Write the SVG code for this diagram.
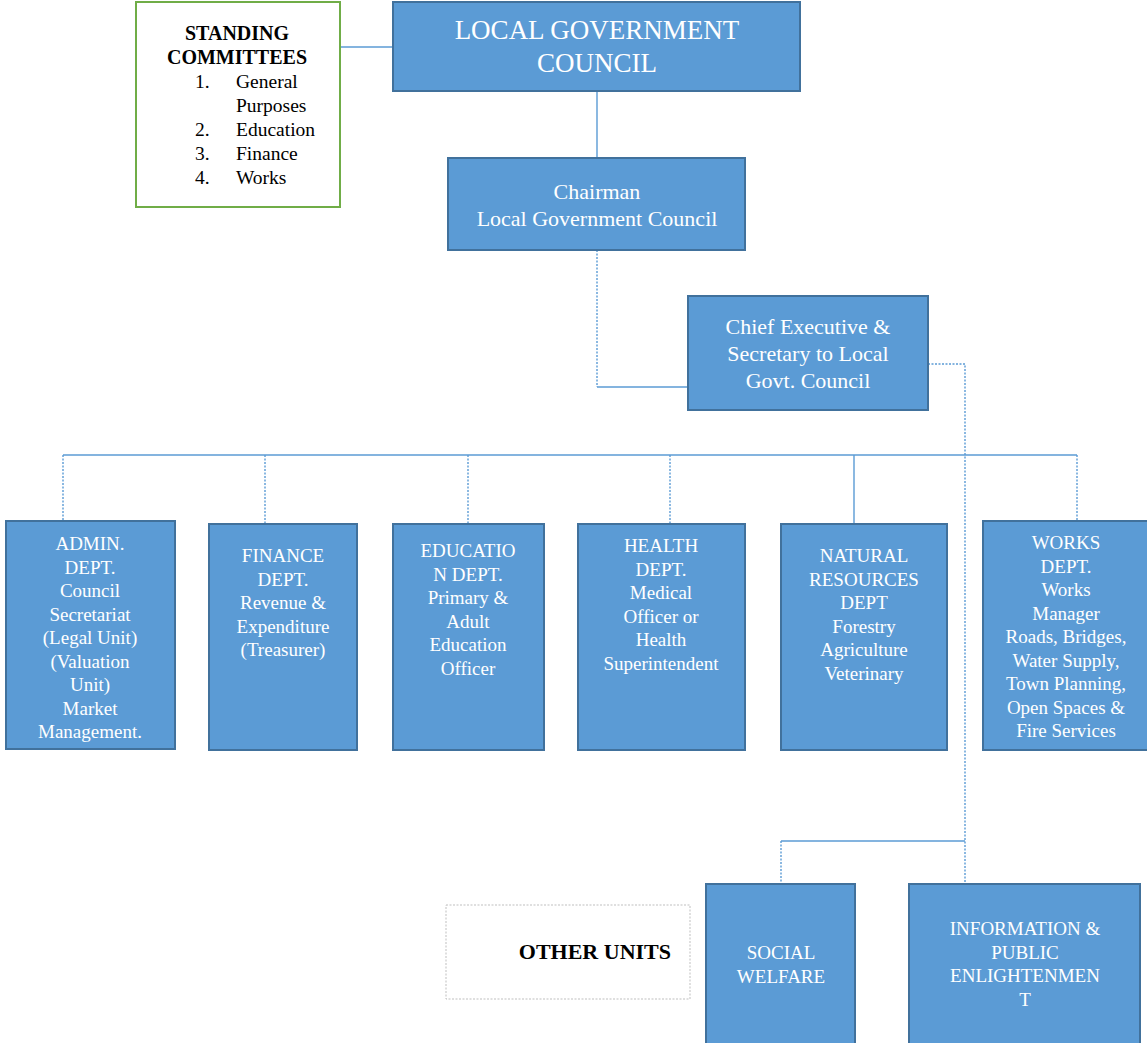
<svg xmlns="http://www.w3.org/2000/svg" width="1147" height="1043" viewBox="0 0 1147 1043">
<style>
.box{fill:#5B9BD5;stroke:#41719C;stroke-width:2}
.wt{fill:#FFFFFF;font-family:"Liberation Serif","Times New Roman",serif;text-anchor:middle}
.d{font-size:19px}
.bt{fill:#000000;font-family:"Liberation Serif","Times New Roman",serif}
.ln{fill:none;stroke:#5B9BD5;stroke-width:1.4}
.dl{fill:none;stroke:#5B9BD5;stroke-width:1.4;stroke-dasharray:2 1.5}
</style>
<rect width="1147" height="1043" fill="#FFFFFF"/>
<g id="connectors">
<path class="ln" d="M340 47 H393"/>
<path class="ln" d="M597 91 V158"/>
<path class="dl" d="M597 250 V387"/>
<path class="ln" d="M597 387 H688"/>
<path class="dl" d="M928 364 H965 V884"/>
<path class="ln" d="M63 455 H1077"/>
<path class="dl" d="M63 455 V521"/>
<path class="dl" d="M265 455 V524"/>
<path class="dl" d="M468 455 V524"/>
<path class="dl" d="M670 455 V524"/>
<path class="ln" d="M854 455 V524"/>
<path class="dl" d="M1077 455 V521"/>
<path class="ln" d="M965 841 H781"/>
<path class="dl" d="M781 841 V884"/>
</g>
<g id="standing-committees">
<rect x="136" y="2" width="204" height="205" fill="#FFFFFF" stroke="#70AD47" stroke-width="2"/>
<text class="bt" x="237" y="40" font-size="20" font-weight="bold" text-anchor="middle">STANDING</text>
<text class="bt" x="237" y="64" font-size="20" font-weight="bold" text-anchor="middle">COMMITTEES</text>
<g font-size="19.5">
<text class="bt" x="195" y="88">1.</text><text class="bt" x="236" y="88">General</text>
<text class="bt" x="236" y="112">Purposes</text>
<text class="bt" x="195" y="136">2.</text><text class="bt" x="236" y="136">Education</text>
<text class="bt" x="195" y="160">3.</text><text class="bt" x="236" y="160">Finance</text>
<text class="bt" x="195" y="184">4.</text><text class="bt" x="236" y="184">Works</text>
</g>
</g>
<g id="local-government-council">
<rect class="box" x="393" y="2" width="407" height="89"/>
<text class="wt" x="597" y="39" font-size="27">LOCAL GOVERNMENT</text>
<text class="wt" x="597" y="72" font-size="27">COUNCIL</text>
</g>
<g id="chairman">
<rect class="box" x="448" y="158" width="297" height="92"/>
<text class="wt" x="597" y="199" font-size="22">Chairman</text>
<text class="wt" x="597" y="226" font-size="22">Local Government Council</text>
</g>
<g id="chief-executive">
<rect class="box" x="688" y="296" width="240" height="114"/>
<text class="wt" x="808" y="334" font-size="22">Chief Executive &amp;</text>
<text class="wt" x="808" y="361" font-size="22">Secretary to Local</text>
<text class="wt" x="808" y="388" font-size="22">Govt. Council</text>
</g>
<g id="admin-dept">
<rect class="box" x="6" y="521" width="169" height="228"/>
<text class="wt d" x="90" y="550">ADMIN.</text>
<text class="wt d" x="90" y="573.5">DEPT.</text>
<text class="wt d" x="90" y="597">Council</text>
<text class="wt d" x="90" y="620.5">Secretariat</text>
<text class="wt d" x="90" y="644">(Legal Unit)</text>
<text class="wt d" x="90" y="667.5">(Valuation</text>
<text class="wt d" x="90" y="691">Unit)</text>
<text class="wt d" x="90" y="714.5">Market</text>
<text class="wt d" x="90" y="738">Management.</text>
</g>
<g id="finance-dept">
<rect class="box" x="209" y="524" width="148" height="226"/>
<text class="wt d" x="283" y="562">FINANCE</text>
<text class="wt d" x="283" y="585.5">DEPT.</text>
<text class="wt d" x="283" y="609">Revenue &amp;</text>
<text class="wt d" x="283" y="632.5">Expenditure</text>
<text class="wt d" x="283" y="656">(Treasurer)</text>
</g>
<g id="education-dept">
<rect class="box" x="393" y="524" width="151" height="226"/>
<text class="wt d" x="468" y="557">EDUCATIO</text>
<text class="wt d" x="468" y="580.5">N DEPT.</text>
<text class="wt d" x="468" y="604">Primary &amp;</text>
<text class="wt d" x="468" y="627.5">Adult</text>
<text class="wt d" x="468" y="651">Education</text>
<text class="wt d" x="468" y="674.5">Officer</text>
</g>
<g id="health-dept">
<rect class="box" x="578" y="524" width="167" height="226"/>
<text class="wt d" x="661" y="552">HEALTH</text>
<text class="wt d" x="661" y="575.5">DEPT.</text>
<text class="wt d" x="661" y="599">Medical</text>
<text class="wt d" x="661" y="622.5">Officer or</text>
<text class="wt d" x="661" y="646">Health</text>
<text class="wt d" x="661" y="669.5">Superintendent</text>
</g>
<g id="natural-resources-dept">
<rect class="box" x="781" y="524" width="166" height="226"/>
<text class="wt d" x="864" y="562">NATURAL</text>
<text class="wt d" x="864" y="585.5">RESOURCES</text>
<text class="wt d" x="864" y="609">DEPT</text>
<text class="wt d" x="864" y="632.5">Forestry</text>
<text class="wt d" x="864" y="656">Agriculture</text>
<text class="wt d" x="864" y="679.5">Veterinary</text>
</g>
<g id="works-dept">
<rect class="box" x="983" y="521" width="165" height="229"/>
<text class="wt d" x="1066" y="549">WORKS</text>
<text class="wt d" x="1066" y="572.5">DEPT.</text>
<text class="wt d" x="1066" y="596">Works</text>
<text class="wt d" x="1066" y="619.5">Manager</text>
<text class="wt d" x="1066" y="643">Roads, Bridges,</text>
<text class="wt d" x="1066" y="666.5">Water Supply,</text>
<text class="wt d" x="1066" y="690">Town Planning,</text>
<text class="wt d" x="1066" y="713.5">Open Spaces &amp;</text>
<text class="wt d" x="1066" y="737">Fire Services</text>
</g>
<g id="other-units">
<rect x="446" y="905" width="244" height="94" fill="#FFFFFF" stroke="#BFBFBF" stroke-width="1" stroke-dasharray="2 1.5"/>
<text class="bt" x="671" y="959" font-size="22" font-weight="bold" text-anchor="end">OTHER UNITS</text>
</g>
<g id="social-welfare">
<rect class="box" x="706" y="884" width="149" height="162"/>
<text class="wt d" x="781" y="959">SOCIAL</text>
<text class="wt d" x="781" y="983">WELFARE</text>
</g>
<g id="information">
<rect class="box" x="909" y="884" width="231" height="162"/>
<text class="wt d" x="1025" y="935">INFORMATION &amp;</text>
<text class="wt d" x="1025" y="958.5">PUBLIC</text>
<text class="wt d" x="1025" y="982">ENLIGHTENMEN</text>
<text class="wt d" x="1025" y="1005.5">T</text>
</g>
</svg>
